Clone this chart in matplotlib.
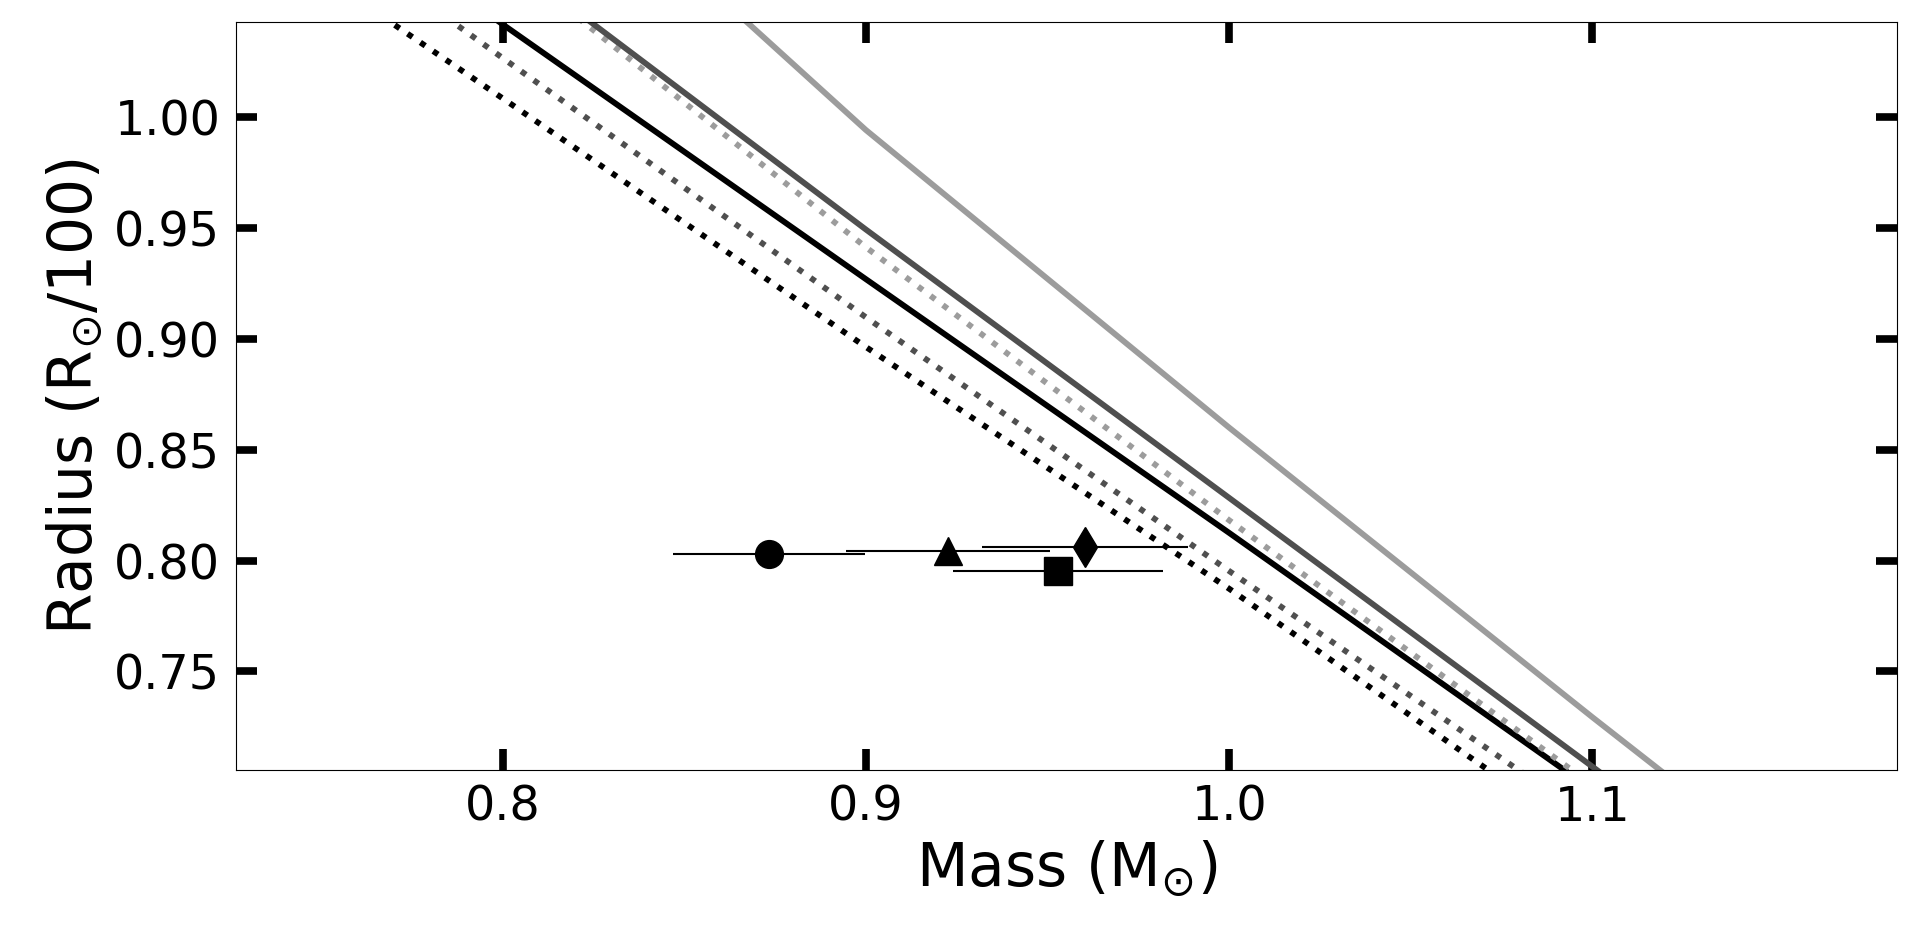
import matplotlib
matplotlib.use("Agg")
import matplotlib.pyplot as plt

# Evolutionary-track radii (R_sun/100) sampled on a mass grid (M_sun)
mass_grid = [0.7, 0.8, 0.9, 1.0, 1.1, 1.2]
track_black_dotted = [1.120, 1.0086, 0.8964, 0.7873, 0.6726, 0.560]
track_dgray_dotted = [1.145, 1.0268, 0.9098, 0.7953, 0.6825, 0.570]
track_black_solid = [1.160, 1.0420, 0.9270, 0.8125, 0.6965, 0.580]
track_lgray_dotted = [1.200, 1.0720, 0.9414, 0.8182, 0.6987, 0.580]
track_dgray_solid = [1.200, 1.0730, 0.9494, 0.8283, 0.7070, 0.585]
track_lgray_solid = [1.290, 1.1430, 0.9943, 0.8600, 0.7293, 0.601]

# Measured stars
star_mass = [0.8733, 0.9226, 0.9530, 0.9604]
star_mass_err = [0.0264, 0.0280, 0.0289, 0.0283]
star_radius = [0.8030, 0.8042, 0.7955, 0.8063]
star_markers = ["o", "^", "s", "d"]

x_ticks = [0.8, 0.9, 1.0, 1.1]
y_ticks = [0.75, 0.80, 0.85, 0.90, 0.95, 1.00]

fig = plt.figure(figsize=(19.18, 9.33), dpi=100)
ax = fig.add_axes([0.1232, 0.1747, 0.9888 - 0.1232, 0.9761 - 0.1747])

lw = 4.2
ax.plot(mass_grid, track_black_dotted, color="black", ls=":", lw=lw)
ax.plot(mass_grid, track_dgray_dotted, color="0.31", ls=":", lw=lw)
ax.plot(mass_grid, track_black_solid, color="black", ls="-", lw=lw)
ax.plot(mass_grid, track_lgray_dotted, color="0.61", ls=":", lw=lw)
ax.plot(mass_grid, track_dgray_solid, color="0.31", ls="-", lw=lw)
ax.plot(mass_grid, track_lgray_solid, color="0.61", ls="-", lw=lw)

for m, me, r, mk in zip(star_mass, star_mass_err, star_radius, star_markers):
    ax.errorbar(m, r, xerr=me, fmt=mk, color="black", ms=20, mew=1,
                elinewidth=1.5, capsize=0, zorder=5)

ax.set_xlim(0.7267, 1.1837)
ax.set_ylim(0.7055, 1.0429)
ax.set_xticks(x_ticks)
ax.set_yticks(y_ticks)

ax.tick_params(axis="both", which="major", direction="in", length=15,
               width=5.5, top=True, right=True, labelsize=34.3)
ax.tick_params(axis="x", pad=10)
ax.tick_params(axis="y", pad=11.5)

ax.set_xlabel(r"Mass (M$_{\odot}$)", fontsize=43, labelpad=6)
ax.set_ylabel(r"Radius (R$_{\odot}$/100)", fontsize=43, labelpad=6)

fig.savefig("out.png", dpi=100)
